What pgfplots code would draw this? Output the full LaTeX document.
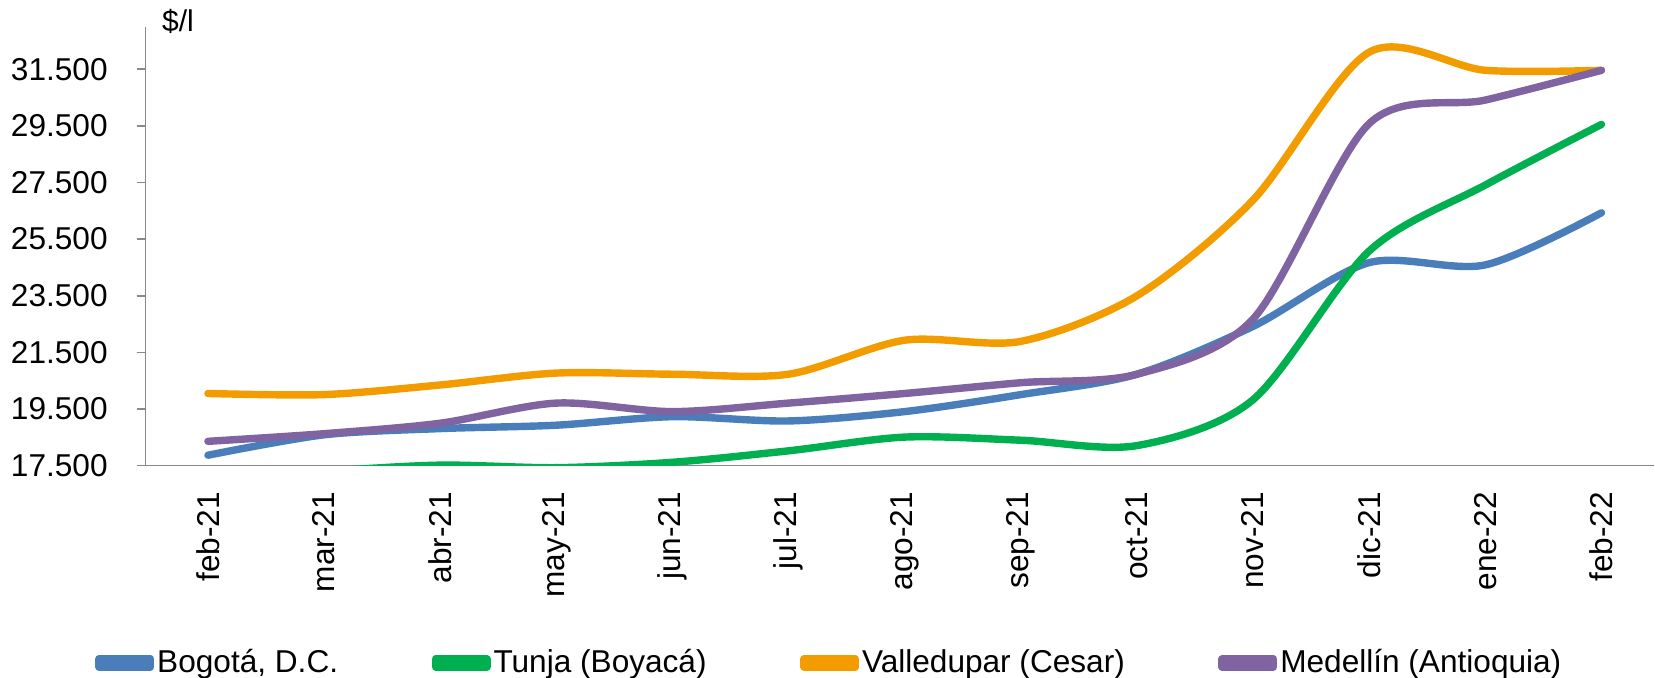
\documentclass[border=0pt]{standalone}
\usepackage{pgfplots}
\pgfplotsset{compat=1.18}
\usepackage{fontspec}
\setmainfont{Liberation Sans}
\definecolor{cBog}{HTML}{4A7EBB}
\definecolor{cTun}{HTML}{00B050}
\definecolor{cVal}{HTML}{F39C00}
\definecolor{cMed}{HTML}{8064A2}
\definecolor{axgray}{RGB}{137,137,137}
\newcommand{\fs}{\fontsize{15.8pt}{19pt}\selectfont}
\begin{document}
\begin{tikzpicture}[font=\fs]
\begin{axis}[
  at={(0,0)}, anchor=south west,
  scale only axis,
  width=754pt, height=219.5pt,
  xmin=-0.536, xmax=12.45,
  ymin=17500, ymax=33000,
  scaled y ticks=false,
  axis x line=bottom, axis y line=left,
  axis line style={-, draw=axgray, line width=0.8pt},
  xtick={0,...,12},
  xticklabels={feb-21,mar-21,abr-21,may-21,jun-21,jul-21,ago-21,sep-21,oct-21,nov-21,dic-21,ene-22,feb-22},
  xtick style={draw=none},
  xticklabel style={rotate=90, anchor=east, inner sep=0pt, font=\fs},
  xticklabel shift=8.5pt,
  ytick={17500,19500,21500,23500,25500,27500,29500,31500},
  yticklabels={17.500,19.500,21.500,23.500,25.500,27.500,29.500,31.500},
  ytick style={draw=axgray, line width=0.8pt},
  tick align=outside,
  major tick length=4.5pt,
  yticklabel style={anchor=east, inner sep=0pt, font=\fs},
  yticklabel shift=14.35pt,
  every axis plot/.append style={line width=3.7pt, line cap=round, line join=round, smooth, tension=0.5, mark=none},
  legend columns=4,
  legend style={at={(axis description cs:-0.0336,-0.449)}, anchor=west, draw=none, fill=none, inner sep=0pt,
    font=\fs, nodes={inner xsep=1.5pt, inner ysep=0pt},
    /tikz/every even column/.append style={column sep=45.3pt}},
  legend image code/.code={\path (0pt,-2pt) rectangle (25.7pt,2pt); \draw[#1, line width=3.9pt, line cap=round] (1.95pt,0pt) -- (24.6pt,0pt);},
]
\addplot[cBog] coordinates {(0,17870) (1,18590) (2,18810) (3,18930) (4,19230) (5,19080) (6,19410) (7,20010) (8,20730) (9,22420) (10,24670) (11,24590) (12,26430)};
\addlegendentry{Bogotá, D.C.}
\addplot[cTun] coordinates {(0,17000) (1,17300) (2,17520) (3,17430) (4,17620) (5,18025) (6,18510) (7,18400) (8,18210) (9,19830) (10,25080) (11,27410) (12,29550)};
\addlegendentry{Tunja (Boyacá)}
\addplot[cVal] coordinates {(0,20050) (1,20010) (2,20350) (3,20770) (4,20730) (5,20730) (6,21930) (7,21890) (8,23500) (9,26880) (10,32100) (11,31460) (12,31460)};
\addlegendentry{Valledupar (Cesar)}
\addplot[cMed] coordinates {(0,18360) (1,18630) (2,19000) (3,19710) (4,19410) (5,19710) (6,20050) (7,20430) (8,20730) (9,22680) (10,29580) (11,30410) (12,31460)};
\addlegendentry{Medellín (Antioquia)}
\end{axis}
\node[anchor=base west, inner sep=0pt, font=\fontsize{15pt}{18pt}\selectfont] at ([xshift=8pt,yshift=-2.5pt]current axis.north west) {\$/l};
\pgfresetboundingbox
\path[use as bounding box] ([xshift=-72.85pt,yshift=-106.15pt]current axis.south west) rectangle ([xshift=754.65pt,yshift=232.85pt]current axis.south west);
\end{tikzpicture}
\end{document}
